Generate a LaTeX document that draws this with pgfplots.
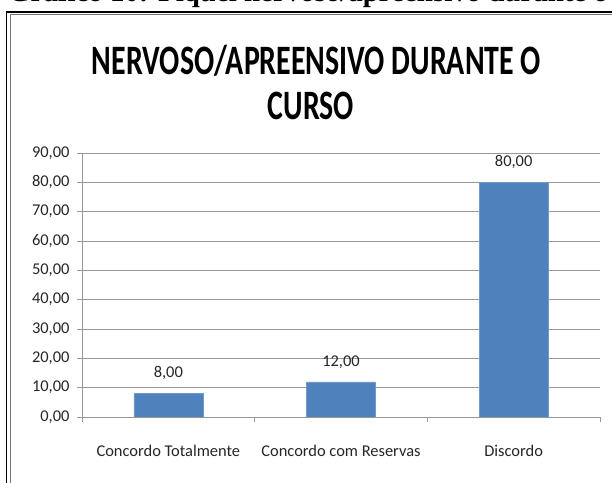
\documentclass[border=0pt]{standalone}
\usepackage{pgfplots}
\pgfplotsset{compat=1.18}
\usepackage{fontspec}
\setmainfont{Carlito}
\newfontfamily\capfont{Liberation Serif}
\definecolor{barblue}{HTML}{4F81BD}
\definecolor{gridgray}{HTML}{989898}
\begin{document}
\begin{tikzpicture}[x=1bp,y=1bp]
\begin{scope}
\clip (0,0) rectangle (612,483);
\node[anchor=base west, inner sep=0, font=\capfont\bfseries\fontsize{29}{30}\selectfont] at (8,481.5) {Gráfico 10: Fiquei nervoso/apreensivo durante o curso};
\draw[line width=1.5bp] (6.5,-20) -- (6.5,471) -- (700,471);
\draw[line width=0.8bp, black!55] (10,-20) -- (10,468.5) -- (700,468.5);
\end{scope}
\node[inner sep=0, font=\bfseries\fontsize{30}{32}\selectfont] at (316.5,422) {\scalebox{1}[1.4]{NERVOSO/APREENSIVO DURANTE O}};
\node[inner sep=0, font=\bfseries\fontsize{30}{32}\selectfont] at (311,377) {\scalebox{1}[1.4]{CURSO}};
\begin{axis}[
  at={(82bp,66bp)}, anchor=south west,
  scale only axis, width=518bp, height=264bp,
  xmin=-0.5, xmax=2.5, ymin=0, ymax=90,
  ybar, bar width=69bp,
  xtick={-0.5,0.5,1.5,2.5},
  x tick label as interval,
  xticklabels={Concordo Totalmente,Concordo com Reservas,Discordo},
  ytick={0,10,...,90},
  axis x line*=bottom, axis y line*=left,
  axis line style={gridgray, line width=0.9bp},
  tick style={gridgray, line width=0.9bp},
  tick align=outside,
  major tick length=5bp,
  ymajorgrids, major grid style={gridgray, line width=0.9bp},
  tick label style={font=\fontsize{16.5}{18}\selectfont, text=black!85},
  xticklabel style={yshift=-20bp},
  yticklabel style={xshift=-4bp, /pgf/number format/.cd, fixed, fixed zerofill, precision=2, use comma, assume math mode=true},
  nodes near coords,
  nodes near coords style={font=\fontsize{16.5}{18}\selectfont, text=black!85, yshift=10bp,
    /pgf/number format/.cd, fixed, fixed zerofill, precision=2, use comma, assume math mode=true},
]
\addplot[fill=barblue, draw=barblue!80!white] coordinates {(0,8) (1,12) (2,80)};
\end{axis}
\pgfresetboundingbox
\useasboundingbox (0,0) rectangle (612,483);
\end{tikzpicture}
\end{document}
